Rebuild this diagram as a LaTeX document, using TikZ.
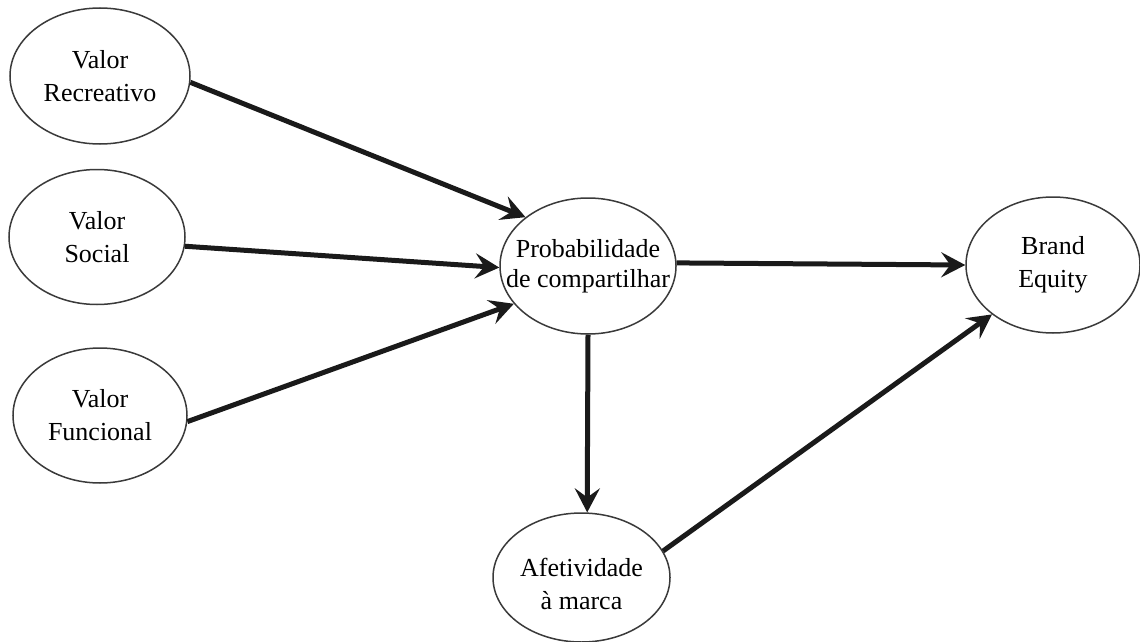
\documentclass[tikz,border=0pt]{standalone}
\usepackage{fontspec}
\setmainfont{Liberation Serif}
\usetikzlibrary{arrows.meta,shapes.geometric}
\definecolor{rim}{HTML}{3A3A3A}
\definecolor{ink}{HTML}{1A1A1A}
\begin{document}
\begin{tikzpicture}[x=0.5pt,y=-0.5pt,
  construct/.style={ellipse,draw=rim,line width=0.75pt,fill=white,inner sep=0pt},
  caption/.style={align=center,inner sep=0pt,text=black,
    font=\fontsize{13}{16.5}\selectfont},
  path/.style={draw=ink,line width=2.5pt,
    -{Stealth[length=12pt,width=12.5pt,inset=4.5pt]}}]
\useasboundingbox (0,0) rectangle (1140,642);

% constructs: the outline is sized by hand, the wording sits in its centre
\node[construct,minimum width=90pt,minimum height=68pt,
      label={[caption]center:Valor\\Recreativo}] (rec) at (100,76) {};
\node[construct,minimum width=88pt,minimum height=67.5pt,
      label={[caption]center:Valor\\Social}] (soc) at (97,237) {};
\node[construct,minimum width=87pt,minimum height=67.5pt,
      label={[caption]center:Valor\\Funcional}] (fun) at (100,415.5) {};
\node[construct,minimum width=88pt,minimum height=68pt,
      label={[caption,font=\fontsize{13}{15}\selectfont]center:Probabilidade\\de compartilhar}] (prob) at (588,266) {};
\node[construct,minimum width=87pt,minimum height=68pt,
      label={[caption]center:Brand\\Equity}] (brand) at (1053,265) {};
\node[construct,minimum width=88.5pt,minimum height=64.5pt,
      label={[caption,yshift=-3pt]center:Afetividade\\à marca}] (afe) at (581.5,577.5) {};

% structural paths
\draw[path] (rec.-4) -- (prob.142);
\draw[path] (soc.-6) -- (prob.181);
\draw[path] (fun.-4) -- (prob.207);
\draw[path] (prob.2) -- (brand.180);
\draw[path] (prob.south) -- (afe.85);
\draw[path] (afe.18) -- (brand.219);
\end{tikzpicture}
\end{document}
